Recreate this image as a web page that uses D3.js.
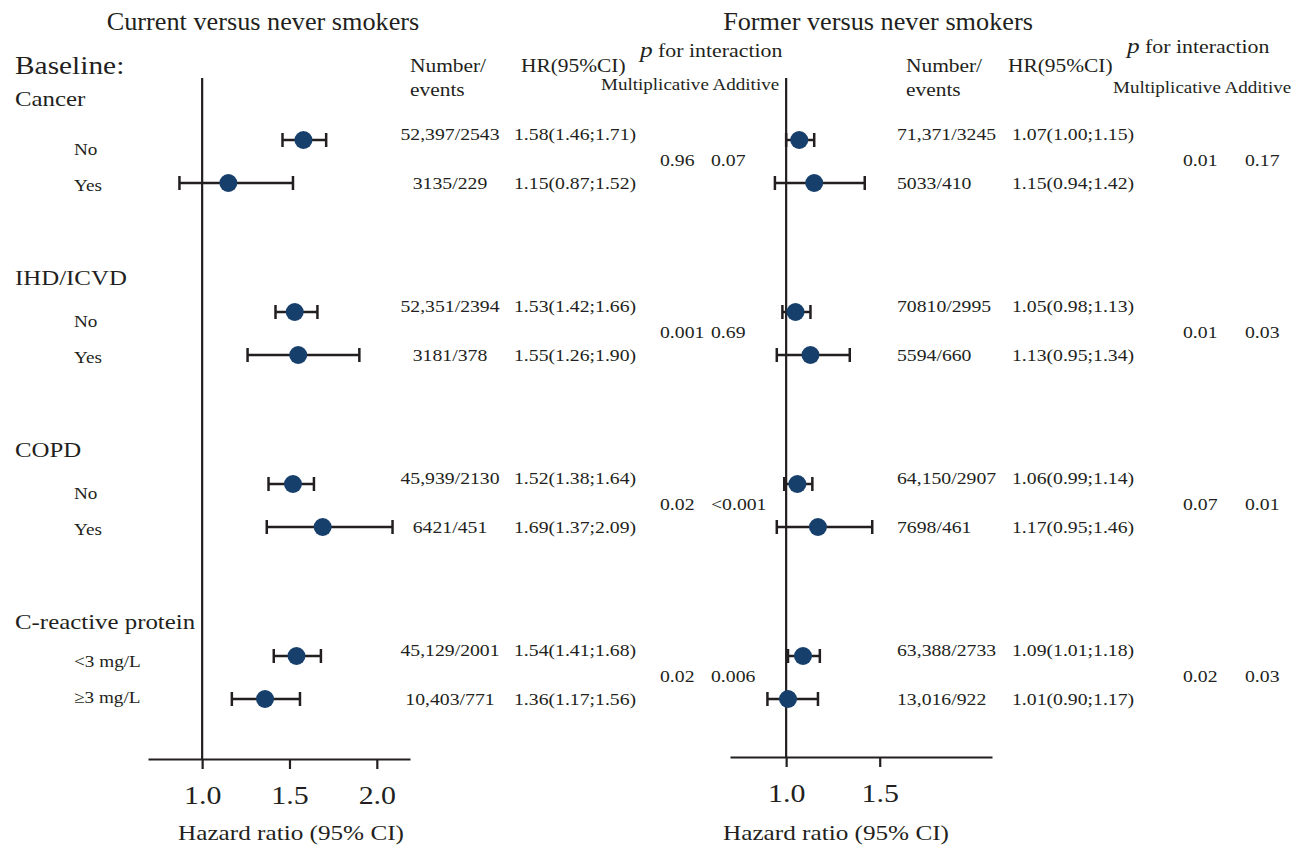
<!DOCTYPE html>
<html>
<head>
<meta charset="utf-8">
<script src="https://cdn.jsdelivr.net/npm/d3@7"></script>
<style>
  body { margin: 0; background: #fff; }
  text { font-family: "Liberation Serif", "Times New Roman", serif; fill: #231f20; }
</style>
</head>
<body>
<script>
// groups and subgroups
var groups = ["Cancer", "IHD/ICVD", "COPD", "C-reactive protein"];
var subLabels = [["No", "Yes"], ["No", "Yes"], ["No", "Yes"], ["<3 mg/L", "\u22653 mg/L"]];

// current versus never smokers
var curN   = [["52,397/2543", "3135/229"], ["52,351/2394", "3181/378"], ["45,939/2130", "6421/451"], ["45,129/2001", "10,403/771"]];
var curHR  = [[1.58, 1.15], [1.53, 1.55], [1.52, 1.69], [1.54, 1.36]];
var curLo  = [[1.46, 0.87], [1.42, 1.26], [1.38, 1.37], [1.41, 1.17]];
var curHi  = [[1.71, 1.52], [1.66, 1.90], [1.64, 2.09], [1.68, 1.56]];
var curMult = ["0.96", "0.001", "0.02", "0.02"];
var curAdd  = ["0.07", "0.69", "<0.001", "0.006"];

// former versus never smokers
var forN   = [["71,371/3245", "5033/410"], ["70810/2995", "5594/660"], ["64,150/2907", "7698/461"], ["63,388/2733", "13,016/922"]];
var forHR  = [[1.07, 1.15], [1.05, 1.13], [1.06, 1.17], [1.09, 1.01]];
var forLo  = [[1.00, 0.94], [0.98, 0.95], [0.99, 0.95], [1.01, 0.90]];
var forHi  = [[1.15, 1.42], [1.13, 1.34], [1.14, 1.46], [1.18, 1.17]];
var forMult = ["0.01", "0.01", "0.07", "0.02"];
var forAdd  = ["0.17", "0.03", "0.01", "0.03"];

var curTicks = [1.0, 1.5, 2.0];
var forTicks = [1.0, 1.5];

var width = 1308, height = 848;
var svg = d3.select("body").append("svg")
    .attr("width", width)
    .attr("height", height);

var ink = "#231f20";
var dotColor = "#173f6c";

// row position: group index, sub index
function rowY(g, s) { return 140 + g * 172 + s * 43; }

// the original text is a bit stretched sideways, so scale x only
function txt(parent, x, y, str, size, sx, anchor) {
  return parent.append("text")
    .attr("transform", "translate(" + x + "," + y + ") scale(" + sx + ",1)")
    .attr("text-anchor", anchor || "start")
    .style("font-size", size + "px")
    .text(str);
}

// left labels
txt(svg, 15, 74, "Baseline:", 26, 1.13);
groups.forEach(function(name, g) {
  txt(svg, 15, g === 0 ? 106 : rowY(g, 0) - 27, name, 22, 1.13);
  subLabels[g].forEach(function(lab, s) {
    txt(svg, 74, rowY(g, s) + (s === 0 ? 15 : 8) - (g === 3 ? 4 : 0), lab, 17, 1.13);
  });
});

function panel(opt) {
  var x = d3.scaleLinear().domain(opt.domain).range(opt.range);
  var g = svg.append("g");

  txt(g, opt.titleX, 30, opt.title, 25, 1.05, "middle");

  // reference line at 1
  g.append("line").attr("x1", x(1)).attr("x2", x(1)).attr("y1", 78).attr("y2", opt.axisY)
    .attr("stroke", ink).attr("stroke-width", 2.2);

  // axis
  var axis = g.append("g").attr("transform", "translate(0," + opt.axisY + ")")
    .call(d3.axisBottom(x).tickValues(opt.ticks).tickFormat(d3.format(".1f")).tickSize(10).tickPadding(17).tickSizeOuter(0));
  axis.attr("font-family", "Liberation Serif").attr("font-size", 26);
  axis.select(".domain").attr("stroke", ink).attr("stroke-width", 2.2);
  axis.selectAll(".tick line").attr("stroke", ink).attr("stroke-width", 2.2);
  axis.selectAll(".tick text").style("font-size", "26px").attr("fill", ink)
    .attr("transform", "scale(1.15,1)");

  txt(g, opt.xlabX, 840, "Hazard ratio (95% CI)", 21, 1.2, "middle");

  // headers
  txt(g, opt.numX, 72, "Number/", 18, 1.19);
  txt(g, opt.numX, 96, "events", 18, 1.19);
  txt(g, opt.hrHeadX, 72, "HR(95%CI)", 18, 1.19);
  var pt = txt(g, opt.pX, opt.pY, "", 19, 1.15);
  pt.append("tspan").style("font-style", "italic").style("font-size", "22px").text("p");
  pt.append("tspan").text(" for interaction");
  txt(g, opt.maX, opt.maY, "Multiplicative Additive", 16, 1.19);

  groups.forEach(function(name, gi) {
    [0, 1].forEach(function(s) {
      var y = rowY(gi, s);
      var lo = opt.lo[gi][s], hi = opt.hi[gi][s], hr = opt.hr[gi][s];
      g.append("line").attr("x1", x(lo)).attr("x2", x(hi)).attr("y1", y).attr("y2", y)
        .attr("stroke", ink).attr("stroke-width", 2.5);
      [lo, hi].forEach(function(v) {
        g.append("line").attr("x1", x(v)).attr("x2", x(v)).attr("y1", y - 7).attr("y2", y + 7)
          .attr("stroke", ink).attr("stroke-width", 2.5);
      });
      g.append("circle").attr("cx", x(hr)).attr("cy", y).attr("r", 9).attr("fill", dotColor);

      var ty = y + (s === 0 ? 0 : 6);
      txt(g, opt.numColX, ty, opt.n[gi][s], 17, 1.16, opt.numAnchor);
      txt(g, opt.hrX, ty, d3.format(".2f")(hr) + "(" + d3.format(".2f")(lo) + ";" + d3.format(".2f")(hi) + ")", 17, 1.16);
    });
    var py = rowY(gi, 0) + 26;
    txt(g, opt.multX, py, opt.mult[gi], 17, 1.16);
    txt(g, opt.addX, py, opt.add[gi], 17, 1.16);
  });
}

panel({
  title: "Current versus never smokers", titleX: 263,
  domain: [0.69, 2.19], range: [148, 410], axisY: 759, ticks: curTicks, xlabX: 291,
  numX: 410, hrHeadX: 521, pX: 640, pY: 57, maX: 601, maY: 90,
  numColX: 450, numAnchor: "middle", hrX: 514, multX: 660, addX: 711,
  n: curN, hr: curHR, lo: curLo, hi: curHi, mult: curMult, add: curAdd
});

panel({
  title: "Former versus never smokers", titleX: 878,
  domain: [0.70, 2.10], range: [730, 992], axisY: 757, ticks: forTicks, xlabX: 836,
  numX: 906, hrHeadX: 1008, pX: 1127, pY: 53, maX: 1113, maY: 93,
  numColX: 897, numAnchor: "start", hrX: 1012, multX: 1183, addX: 1245,
  n: forN, hr: forHR, lo: forLo, hi: forHi, mult: forMult, add: forAdd
});
</script>
</body>
</html>
